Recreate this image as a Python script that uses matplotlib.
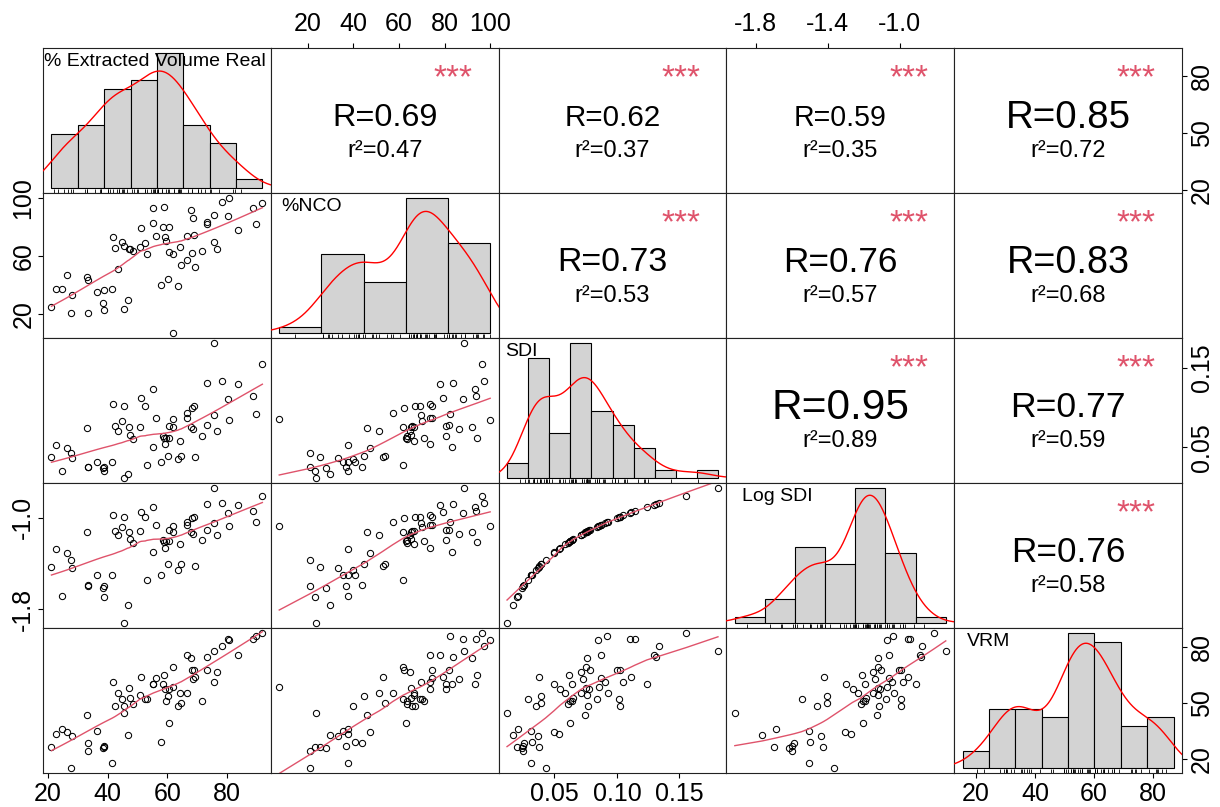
import numpy as np
import matplotlib
matplotlib.use("Agg")
import matplotlib.pyplot as plt

plt.rcParams['font.family'] = ['Liberation Sans', 'DejaVu Sans']

names = ["% Extracted Volume Real", "%NCO", "SDI", "Log SDI", "VRM"]

evr = [21.1, 22.5, 24.7, 26.2, 27.5, 28.0, 32.9, 33.5, 33.4, 36.4, 38.4, 38.8, 38.7,
       41.3, 41.6, 42.4, 43.5, 44.7, 45.5, 45.5, 46.6, 47.1, 47.6, 48.5, 50.7, 51.2,
       52.6, 53.0, 55.3, 55.3, 56.3, 57.8, 58.4, 58.8, 59.1, 59.4, 60.1, 60.4, 60.5,
       61.8, 61.9, 63.5, 64.1, 64.6, 66.5, 66.6, 68.0, 68.4, 68.2, 68.9, 69.3, 71.7,
       73.2, 73.3, 75.5, 75.5, 76.6, 78.2, 80.3, 80.7, 83.7, 88.7, 89.6, 91.8]

nco = [25.1, 37.7, 37.7, 47.4, 20.9, 33.1, 46.0, 43.9, 20.9, 35.6, 28.0, 36.6, 23.2,
       37.5, 73.6, 65.5, 51.3, 69.9, 67.1, 23.4, 29.9, 65.1, 65.1, 63.7, 66.7, 79.3,
       69.0, 61.6, 93.3, 83.2, 74.3, 40.5, 80.5, 94.3, 73.6, 70.8, 44.6, 80.5, 63.2,
       7.4, 61.6, 39.8, 66.7, 54.0, 57.2, 73.8, 92.0, 86.4, 62.3, 74.5, 52.9, 63.7,
       82.1, 83.9, 88.3, 69.7, 64.8, 97.2, 88.0, 100.0, 77.9, 93.6, 82.5, 96.6]

sdi = [0.0374, 0.0534, 0.0205, 0.0496, 0.0429, 0.0366, 0.0745, 0.0260, 0.0252, 0.0315,
       0.0243, 0.0252, 0.0201, 0.0315, 0.1049, 0.0766, 0.0712, 0.0838, 0.1024, 0.0121,
       0.0172, 0.0754, 0.0652, 0.0606, 0.0762, 0.1116, 0.1019, 0.0285, 0.1239, 0.0500,
       0.0872, 0.0319, 0.0640, 0.0614, 0.0547, 0.0623, 0.0395, 0.0775, 0.0623, 0.0855,
       0.0754, 0.0349, 0.0585, 0.0395, 0.0927, 0.0872, 0.0758, 0.0728, 0.0998, 0.1024,
       0.0378, 0.0640, 0.0787, 0.1311, 0.1808, 0.0906, 0.0712, 0.1340, 0.1108, 0.0851,
       0.1298, 0.1142, 0.0918, 0.1555]

vrm = [26.3, 33.4, 36.1, 34.5, 15.5, 32.2, 43.6, 28.5, 24.2, 35.0, 25.8, 27.0, 26.3,
       18.2, 61.0, 48.3, 55.1, 52.3, 48.3, 44.4, 32.7, 57.9, 52.8, 49.2, 54.4, 63.8,
       51.9, 51.9, 60.2, 60.2, 63.3, 29.4, 60.2, 65.0, 57.6, 51.2, 53.7, 57.2, 39.3,
       58.3, 69.3, 48.3, 55.3, 50.1, 55.1, 75.7, 73.7, 62.5, 67.5, 67.5, 63.6, 51.2,
       67.5, 74.4, 77.6, 61.0, 66.5, 80.5, 84.2, 83.3, 75.3, 83.8, 85.8, 87.0]

log_sdi = np.log10(sdi)

data = [np.array(evr), np.array(nco), np.array(sdi), log_sdi, np.array(vrm)]

# histogram breaks of each diagonal panel
breaks = [np.linspace(20, 100, 9), np.linspace(0, 100, 6), np.linspace(0, 0.2, 11),
          np.linspace(-2.0, -0.6, 8), np.linspace(10, 90, 9)]

# upper panels: correlation text
upper_cells = [(0, 1), (0, 2), (0, 3), (0, 4), (1, 2), (1, 3), (1, 4), (2, 3), (2, 4), (3, 4)]
r_vals = [0.69, 0.62, 0.59, 0.85, 0.73, 0.76, 0.83, 0.95, 0.77, 0.76]
r2_vals = [0.47, 0.37, 0.35, 0.72, 0.53, 0.57, 0.68, 0.89, 0.59, 0.58]
stars = ["***"] * 10

# outer axes ticks
bottom_ticks = {0: ([20, 40, 60, 80], ["20", "40", "60", "80"]),
                2: ([0.05, 0.10, 0.15], ["0.05", "0.10", "0.15"]),
                4: ([20, 40, 60, 80], ["20", "40", "60", "80"])}
top_ticks = {1: ([20, 40, 60, 80, 100], ["20", "40", "60", "80", "100"]),
             3: ([-1.8, -1.4, -1.0], ["-1.8", "-1.4", "-1.0"])}
left_ticks = {1: ([20, 60, 100], ["20", "60", "100"]),
              3: ([-1.8, -1.0], ["-1.8", "-1.0"])}
right_ticks = {0: ([20, 50, 80], ["20", "50", "80"]),
               2: ([0.05, 0.15], ["0.05", "0.15"]),
               4: ([20, 50, 80], ["20", "50", "80"])}
label_x = [0.005, 0.048, 0.03, 0.07, 0.057]


def ext(v, f=0.04):
    lo, hi = np.min(v), np.max(v)
    d = (hi - lo) * f
    return lo - d, hi + d


def lowess(x, y, frac=2/3, iters=3):
    idx = np.argsort(x, kind='stable')
    x = np.asarray(x, float)[idx]
    y = np.asarray(y, float)[idx]
    n = len(x)
    k = int(np.ceil(frac * n))
    dist = np.abs(x[:, None] - x[None, :])
    h = np.maximum(np.sort(dist, axis=1)[:, k - 1], 1e-12)
    w0 = (1 - np.clip(dist / h[:, None], 0, 1) ** 3) ** 3
    rob = np.ones(n)
    fit = np.zeros(n)
    for _ in range(iters + 1):
        for i in range(n):
            wi = w0[i] * rob
            sw = wi.sum()
            xm = (wi * x).sum() / sw
            ym = (wi * y).sum() / sw
            sxx = (wi * (x - xm) ** 2).sum()
            b = (wi * (x - xm) * (y - ym)).sum() / sxx if sxx > 1e-12 else 0.0
            fit[i] = ym + b * (x[i] - xm)
        res = y - fit
        s = np.median(np.abs(res))
        if s == 0:
            break
        u = np.clip(res / (6 * s), -1, 1)
        rob = (1 - u ** 2) ** 2
    return x, fit


def kde(v):
    v = np.asarray(v, float)
    n = len(v)
    q75, q25 = np.percentile(v, [75, 25])
    bw = 0.9 * min(v.std(ddof=1), (q75 - q25) / 1.34) * n ** -0.2
    grid = np.linspace(v.min() - 3 * bw, v.max() + 3 * bw, 512)
    dens = np.exp(-0.5 * ((grid[:, None] - v[None, :]) / bw) ** 2).sum(1) / (n * bw * np.sqrt(2 * np.pi))
    return grid, dens


fig = plt.figure(figsize=(12.2, 8.07), dpi=100)
L, R, T, B = 43 / 1220, 1182 / 1220, 1 - 48 / 807, 1 - 773 / 807
w = (R - L) / 5
h = (T - B) / 5
tick_kw = dict(direction='out', length=3.5, width=0.8, labelsize=18, colors='black')

for i in range(5):
    for j in range(5):
        ax = fig.add_axes([L + j * w, T - (i + 1) * h, w, h])
        ax.set_xlim(ext(data[j]))
        ax.set_ylim(ext(data[i]))
        ax.set_xticks([])
        ax.set_yticks([])
        for s in ax.spines.values():
            s.set_linewidth(0.8)
            s.set_color('#222222')

        if i > j:
            x, y = data[j], data[i]
            ax.plot(x, y, 'o', ms=4.5, mfc='none', mec='black', mew=0.75)
            sx, sy = lowess(x, y)
            ax.plot(sx, sy, color='#DF536B', lw=1.0)
        elif i < j:
            k = upper_cells.index((i, j))
            r = r_vals[k]
            ax.text(0.5, 0.52, f"R={r:.2f}", transform=ax.transAxes, ha='center',
                    va='center', fontsize=27.7 * r + 4.2)
            ax.text(0.5, 0.29, f"r\u00b2={r2_vals[k]:.2f}", transform=ax.transAxes,
                    ha='center', va='center', fontsize=17)
            ax.text(0.8, 0.79, stars[k], transform=ax.transAxes, ha='center',
                    va='center', fontsize=24, color='#DF536B')
        else:
            v = data[i]
            hx = ax.inset_axes([0, 0, 1, 1])
            hx.set_axis_off()
            dens_h, edges = np.histogram(v, bins=breaks[i], density=True)
            hx.bar(edges[:-1], dens_h, width=np.diff(edges), align='edge',
                   color='#D3D3D3', edgecolor='black', linewidth=0.8)
            gx, gy = kde(v)
            hx.plot(gx, gy, color='red', lw=1.0)
            m = dens_h.max()
            x0, x1 = ext(edges)
            hx.set_xlim(x0, x1)
            hx.set_ylim(-0.04 * m, 1.04 * m)
            hx.vlines(v, -0.04 * m, -0.04 * m + 0.03 * 1.08 * m, color='black', lw=0.6)
            hx.text(label_x[i], 0.91, names[i], transform=hx.transAxes, ha='left',
                    va='center', fontsize=14, zorder=10)

        if i == 4 and j in bottom_ticks:
            vals, labs = bottom_ticks[j]
            ax.set_xticks(vals, labs)
            ax.tick_params(axis='x', bottom=True, labelbottom=True, pad=3, **tick_kw)
        if i == 0 and j in top_ticks:
            vals, labs = top_ticks[j]
            ax.set_xticks(vals, labs)
            ax.tick_params(axis='x', top=True, labeltop=True, bottom=False,
                           labelbottom=False, pad=5, **tick_kw)
        if j == 0 and i in left_ticks:
            vals, labs = left_ticks[i]
            ax.set_yticks(vals, labs)
            ax.tick_params(axis='y', left=True, labelleft=True, labelrotation=90,
                           pad=2, **tick_kw)
            for lbl in ax.get_yticklabels():
                lbl.set_va('center')
        if j == 4 and i in right_ticks:
            vals, labs = right_ticks[i]
            ax.set_yticks(vals, labs)
            ax.tick_params(axis='y', right=True, labelright=True, left=False,
                           labelleft=False, labelrotation=90, pad=2, **tick_kw)
            for lbl in ax.get_yticklabels():
                lbl.set_va('center')

fig.savefig("out.png", dpi=100)
